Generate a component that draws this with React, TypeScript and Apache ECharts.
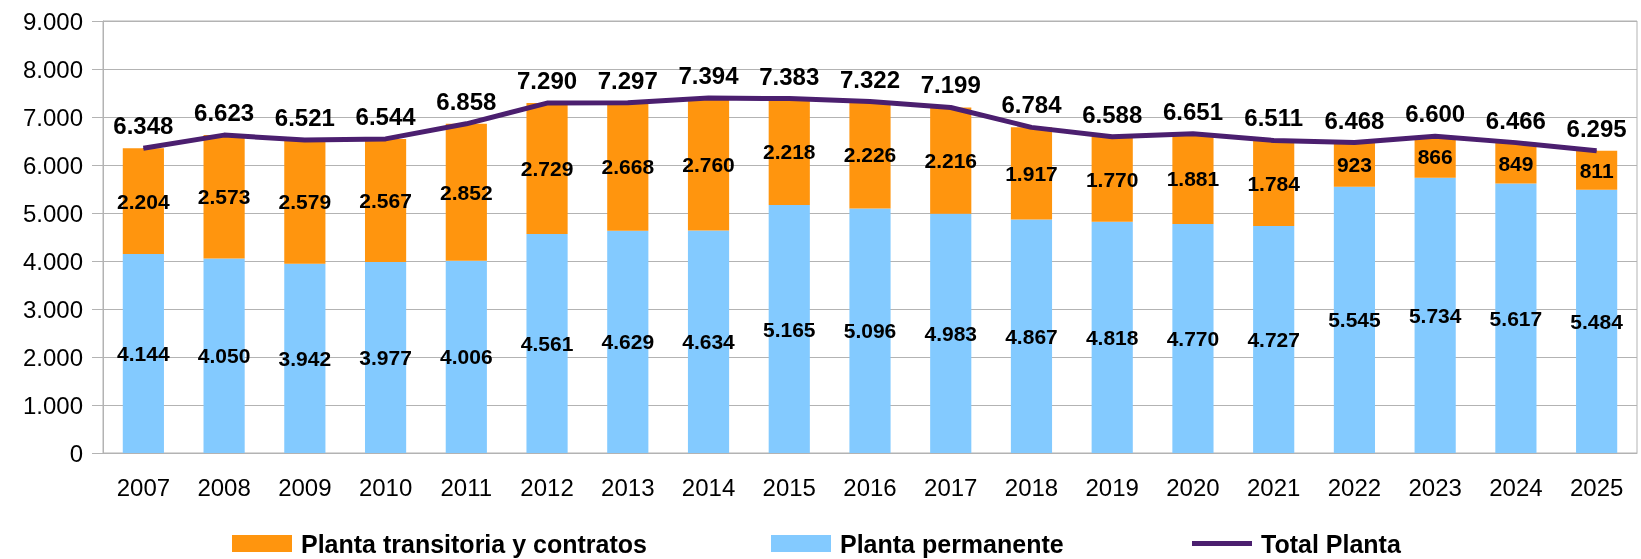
import React, { useEffect, useRef } from "react";
import * as echarts from "echarts";

const years = ["2007","2008","2009","2010","2011","2012","2013","2014","2015","2016","2017","2018","2019","2020","2021","2022","2023","2024","2025"];
const permanente = [4144,4050,3942,3977,4006,4561,4629,4634,5165,5096,4983,4867,4818,4770,4727,5545,5734,5617,5484];
const transitoria = [2204,2573,2579,2567,2852,2729,2668,2760,2218,2226,2216,1917,1770,1881,1784,923,866,849,811];
const total = [6348,6623,6521,6544,6858,7290,7297,7394,7383,7322,7199,6784,6588,6651,6511,6468,6600,6466,6295];

const FONT = "'Liberation Sans', Arial, sans-serif";
const fmt = (v: number) => String(Math.round(v)).replace(/\B(?=(\d{3})+(?!\d))/g, ".");

export default function App() {
  const ref = useRef<HTMLDivElement>(null);
  useEffect(() => {
    const chart = echarts.init(ref.current!, null, { renderer: "svg" });
    const legendText = { fontFamily: FONT, fontSize: 25, fontWeight: "bold", color: "#000", padding: [0, 0, 0, 4] };
    chart.setOption({
      animation: false,
      textStyle: { fontFamily: FONT },
      grid: { left: 103, right: 4, top: 21, bottom: 106, show: true, borderColor: "#b3b3b3", borderWidth: 1 },
      legend: [
        { data: [{ name: "Planta transitoria y contratos", icon: "rect" }], left: 227, top: 526, itemWidth: 60, itemHeight: 17, textStyle: legendText },
        { data: [{ name: "Planta permanente", icon: "rect" }], left: 766, top: 526, itemWidth: 60, itemHeight: 17, textStyle: legendText },
        { data: [{ name: "Total Planta", icon: "rect" }], left: 1187, top: 526, itemWidth: 60, itemHeight: 5, textStyle: legendText },
      ],
      xAxis: {
        type: "category",
        data: years,
        axisLine: { lineStyle: { color: "#b3b3b3", width: 1 } },
        axisTick: { length: 11, lineStyle: { color: "#b3b3b3" } },
        axisLabel: { color: "#000", fontSize: 24, fontFamily: FONT, margin: 22 },
      },
      yAxis: {
        type: "value",
        min: 0,
        max: 9000,
        interval: 1000,
        axisLine: { show: true, lineStyle: { color: "#b3b3b3" } },
        axisTick: { show: true, length: 11, lineStyle: { color: "#b3b3b3" } },
        splitLine: { lineStyle: { color: "#b3b3b3", width: 1 } },
        axisLabel: { color: "#000", fontSize: 24, fontFamily: FONT, margin: 20, formatter: (v: number) => fmt(v) },
      },
      series: [
        {
          name: "Planta permanente",
          type: "bar",
          stack: "s",
          data: permanente,
          barWidth: "51%",
          itemStyle: { color: "#83caff" },
          label: { show: true, position: "inside", color: "#000", fontSize: 21, fontWeight: "bold", fontFamily: FONT, formatter: (p: any) => fmt(p.value) },
        },
        {
          name: "Planta transitoria y contratos",
          type: "bar",
          stack: "s",
          data: transitoria,
          barWidth: "51%",
          itemStyle: { color: "#ff950e" },
          label: { show: true, position: "inside", color: "#000", fontSize: 21, fontWeight: "bold", fontFamily: FONT, formatter: (p: any) => fmt(p.value) },
        },
        {
          name: "Total Planta",
          type: "line",
          data: total,
          symbol: "circle",
          symbolSize: 1,
          showSymbol: true,
          lineStyle: { color: "#4b1f6f", width: 5 },
          itemStyle: { color: "#4b1f6f" },
          label: { show: true, position: "top", distance: 10, color: "#000", fontSize: 24, fontWeight: "bold", fontFamily: FONT, formatter: (p: any) => fmt(p.value) },
        },
      ],
    });
    return () => chart.dispose();
  }, []);
  return <div ref={ref} style={{ position: "fixed", left: 0, top: 0, width: 1641, height: 559 }} />;
}
